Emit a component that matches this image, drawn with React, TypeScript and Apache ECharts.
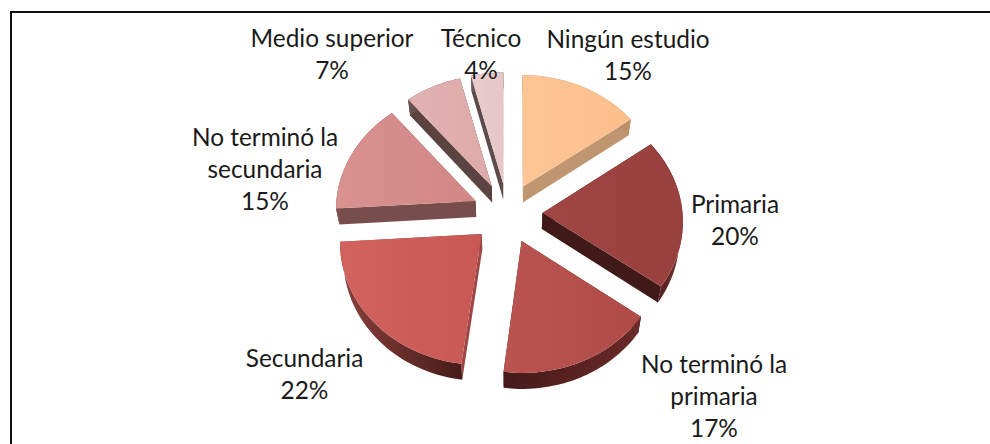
import React, { useEffect, useRef } from "react";
import * as echarts from "echarts";

const categories = ["Ningún estudio", "Primaria", "No terminó la primaria", "Secundaria", "No terminó la secundaria", "Medio superior", "Técnico"];
const values = [15, 20, 17, 22, 15, 7, 4];
const labelLines = [["Ningún estudio"], ["Primaria"], ["No terminó la", "primaria"], ["Secundaria"], ["No terminó la", "secundaria"], ["Medio superior"], ["Técnico"]];
const labelCentres = [[628, 54], [735, 219.5], [714, 395.5], [304.5, 373.5], [265, 168.5], [332, 53], [481, 53]];

const topLeft = ["#fdc595", "#a04644", "#b95450", "#d1625e", "#d99290", "#e2b2b2", "#eacdce"];
const topRight = ["#fbbf8b", "#98403d", "#b04c48", "#c75854", "#d18785", "#dea9a9", "#e6c6c7"];
const radialWall = ["#c09670", "#3f1a18", "#451c1b", "#9e4643", "#784e4c", "#5a4340", "#5e4b4b"];
const wallLeft = ["#c09670", "#441b19", "#451a19", "#8a3f3c", "#7d5250", "#6b5250", "#6e5a5a"];
const wallRight = ["#bb906b", "#7a3431", "#6a2a28", "#471c1a", "#734a48", "#5a4340", "#5e4b4b"];

const CX = 507.5, CY = 213, A = 140, B = 120.8, P = 0.058, EXPLODE = 0.25, DEPTH = 16, SHRINK = 0.98;

function project(X: number, Y: number) {
  const s = 1 / (1 + P * Y);
  return [CX + A * X * s, CY - B * Y * s];
}
function lower(p: number[]) {
  return [CX + (p[0] - CX) * SHRINK, p[1] + DEPTH];
}
const total = values.reduce((a, b) => a + b, 0);
const starts: number[] = [];
values.reduce((acc, v, i) => { starts[i] = acc; return acc + v; }, 0);

function renderSlice(params: any, api: any) {
  const i = params.dataIndex;
  const v = api.value(0);
  const a0 = (starts[i] / total) * Math.PI * 2;
  const a1 = ((starts[i] + v) / total) * Math.PI * 2;
  const mid = (a0 + a1) / 2;
  const ox = EXPLODE * Math.sin(mid), oy = EXPLODE * Math.cos(mid);
  const apex = project(ox, oy);
  const arc: number[][] = [];
  const n = Math.max(8, Math.round(((a1 - a0) / Math.PI) * 90));
  for (let k = 0; k <= n; k++) {
    const t = a0 + ((a1 - a0) * k) / n;
    arc.push(project(ox + Math.sin(t), oy + Math.cos(t)));
  }
  const arcXs = arc.map((p) => p[0]);
  const minArc = Math.min(...arcXs), maxArc = Math.max(...arcXs);
  const xs = arcXs.concat(apex[0]);
  const minX = Math.min(...xs), maxX = Math.max(...xs);
  const apexLow = lower(apex);
  const first = arc[0], last = arc[arc.length - 1];
  const children: any[] = [
    { type: "polygon", shape: { points: [apex, first, lower(first), apexLow] }, style: { fill: radialWall[i] } },
    { type: "polygon", shape: { points: [apex, last, lower(last), apexLow] }, style: { fill: radialWall[i] } },
    {
      type: "polygon",
      shape: { points: [...arc, ...arc.map(lower).reverse()] },
      style: {
        fill: {
          type: "linear", x: minArc, y: 0, x2: maxArc, y2: 0, global: true,
          colorStops: [{ offset: 0, color: wallLeft[i] }, { offset: 1, color: wallRight[i] }],
        },
      },
    },
    {
      type: "polygon",
      shape: { points: [apex, ...arc] },
      style: {
        fill: {
          type: "linear", x: minX, y: 0, x2: maxX, y2: 0, global: true,
          colorStops: [{ offset: 0, color: topLeft[i] }, { offset: 1, color: topRight[i] }],
        },
      },
    },
  ];
  return { type: "group", children };
}

export default function App() {
  const ref = useRef<HTMLDivElement>(null);
  useEffect(() => {
    document.body.style.margin = "0";
    const chart = echarts.init(ref.current!, null, { renderer: "svg" });
    const texts = categories.map((_, i) => ({
      type: "text",
      x: labelCentres[i][0],
      y: labelCentres[i][1],
      z: 50,
      style: {
        text: [...labelLines[i], values[i] + "%"].join("\n"),
        font: '24.4px Lato, "Noto Sans", sans-serif',
        fill: "#1a1a1a",
        align: "center",
        verticalAlign: "middle",
        lineHeight: 32,
      },
    }));
    chart.setOption({
      animation: false,
      backgroundColor: "#ffffff",
      graphic: [
        { type: "line", shape: { x1: 10, y1: 12, x2: 990, y2: 12 }, style: { stroke: "#111111", lineWidth: 2 } },
        { type: "line", shape: { x1: 11, y1: 11, x2: 11, y2: 444 }, style: { stroke: "#111111", lineWidth: 2 } },
        ...texts,
      ],
      series: [
        {
          type: "custom",
          coordinateSystem: "none",
          renderItem: renderSlice,
          data: values.map((v, i) => ({ name: categories[i], value: [v] })),
          silent: true,
        },
      ],
    });
    return () => chart.dispose();
  }, []);
  return <div ref={ref} style={{ width: 990, height: 444 }} />;
}
